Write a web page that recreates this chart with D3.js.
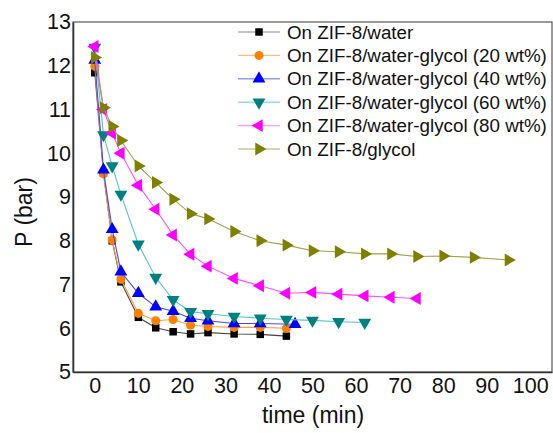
<!DOCTYPE html>
<html>
<head>
<meta charset="utf-8">
<script src="https://cdn.jsdelivr.net/npm/d3@7"></script>
<style>
  body { margin: 0; background: #fff; }
  svg { display: block; font-family: "Liberation Sans", Arial, sans-serif; }
</style>
</head>
<body>
<svg width="553" height="433"></svg>
<script>
// data
var seriesNames = ["On ZIF-8/water", "On ZIF-8/water-glycol (20 wt%)", "On ZIF-8/water-glycol (40 wt%)",
    "On ZIF-8/water-glycol (60 wt%)", "On ZIF-8/water-glycol (80 wt%)", "On ZIF-8/glycol"];

var timeWater = [0, 2, 4, 6, 10, 14, 18, 22, 26, 32, 38, 44];
var pWater = [11.84, 9.55, 8.0, 7.06, 6.25, 6.01, 5.92, 5.87, 5.90, 5.87, 5.86, 5.82];

var time20 = [0, 2, 4, 6, 10, 14, 18, 22, 26, 32, 38, 44];
var p20 = [11.99, 9.53, 8.02, 7.12, 6.34, 6.17, 6.20, 6.07, 6.04, 6.02, 6.02, 6.0];

var time40 = [0, 2, 4, 6, 10, 14, 18, 22, 26, 32, 38, 46];
var p40 = [12.13, 9.62, 8.26, 7.29, 6.80, 6.49, 6.39, 6.23, 6.17, 6.11, 6.11, 6.09];

var time60 = [0, 2, 4, 6, 10, 14, 18, 22, 26, 32, 38, 44, 50, 56, 62];
var p60 = [12.42, 10.42, 9.71, 9.06, 7.92, 7.16, 6.65, 6.38, 6.33, 6.27, 6.23, 6.20, 6.18, 6.15, 6.13];

var time80 = [0, 2, 4, 6, 10, 14, 18, 22, 26, 32, 38, 44, 50, 56, 62, 68, 74];
var p80 = [12.44, 11.0, 10.46, 10.0, 9.27, 8.72, 8.13, 7.69, 7.42, 7.14, 6.97, 6.80, 6.82, 6.78, 6.74, 6.71, 6.68];

var timeGlycol = [0, 2, 4, 6, 10, 14, 18, 22, 26, 32, 38, 44, 50, 56, 62, 68, 74, 80, 87, 95];
var pGlycol = [12.19, 11.04, 10.61, 10.29, 9.71, 9.33, 8.95, 8.62, 8.50, 8.21, 8.00, 7.90, 7.77, 7.75, 7.70, 7.70, 7.64, 7.65, 7.62, 7.56];

var xTicks = [0, 10, 20, 30, 40, 50, 60, 70, 80, 90, 100];
var yTicks = [5, 6, 7, 8, 9, 10, 11, 12, 13];

var times = [timeWater, time20, time40, time60, time80, timeGlycol];
var pressures = [pWater, p20, p40, p60, p80, pGlycol];

var markerColors = ["#000000", "#ff8000", "#0000ff", "#008080", "#ff00ff", "#808000"];
var lineColors = ["#444444", "#f8a040", "#4848f0", "#50c8c8", "#ff50ff", "#a0a048"];
var legendLineColors = ["#b0b0b0", "#f8c080", "#9898f8", "#90e0e0", "#ff98ff", "#c8c890"];
var shapes = [d3.symbolSquare, d3.symbolCircle, d3.symbolTriangle, d3.symbolTriangle, d3.symbolTriangle, d3.symbolTriangle];
var rotations = [0, 0, 0, 180, -90, 90];
var sizes = [56, 64, 72, 72, 72, 72];

var svg = d3.select("svg"),
    margin = {top: 22, right: 1, bottom: 61, left: 73},
    width = svg.attr("width") - margin.left - margin.right,
    height = svg.attr("height") - margin.top - margin.bottom,
    g = svg.append("g").attr("transform", "translate(" + margin.left + "," + margin.top + ")");

var xScale = d3.scaleLinear().domain([-5, 105]).range([0, width]),
    yScale = d3.scaleLinear().domain([5, 13]).range([height, 0]);

var series = seriesNames.map(function (name, i) {
    return {
        id: name,
        values: times[i].map(function (t, j) {
            return {time: t, p: pressures[i][j]};
        })
    };
});

// frame
g.append("rect")
    .attr("width", width)
    .attr("height", height)
    .attr("fill", "none")
    .attr("stroke", "#555")
    .attr("stroke-width", 1.2);

var xAxis = d3.axisBottom(xScale).tickValues(xTicks).tickSize(0).tickPadding(6);
var gX = g.append("g")
    .attr("transform", "translate(0," + height + ")")
    .call(xAxis);
gX.select(".domain").attr("stroke", "#333").attr("stroke-width", 1.6);
gX.selectAll("text").style("font-size", "21.5px").attr("fill", "#111").attr("dy", "0.71em");

var yAxis = d3.axisLeft(yScale).tickValues(yTicks).tickSize(0).tickPadding(2);
var gY = g.append("g").call(yAxis);
gY.select(".domain").attr("stroke", "#333").attr("stroke-width", 1.6);
gY.selectAll("text").style("font-size", "21.5px").attr("fill", "#111");
gX.attr("font-family", null);
gY.attr("font-family", null);

svg.append("text")
    .attr("x", 313)
    .attr("y", 423)
    .attr("text-anchor", "middle")
    .style("font-size", "23px")
    .attr("fill", "#111")
    .text("time (min)");

svg.append("text")
    .attr("transform", "translate(32,212) rotate(-90)")
    .attr("text-anchor", "middle")
    .style("font-size", "23px")
    .attr("fill", "#111")
    .text("P (bar)");

var line = d3.line()
    .x(function (d) { return xScale(d.time); })
    .y(function (d) { return yScale(d.p); });

var symbolFor = function (i) {
    return d3.symbol().type(shapes[i]).size(sizes[i])();
};

var groups = g.selectAll(".series")
    .data(series)
    .enter().append("g")
    .attr("class", "series");

groups.append("path")
    .attr("d", function (d) { return line(d.values); })
    .attr("fill", "none")
    .attr("stroke", function (d, i) { return lineColors[i]; })
    .attr("stroke-width", 1.1);

groups.each(function (d, i) {
    d3.select(this).selectAll(".pt")
        .data(d.values)
        .enter().append("path")
        .attr("class", "pt")
        .attr("transform", function (v) {
            return "translate(" + xScale(v.time) + "," + yScale(v.p) + ") rotate(" + rotations[i] + ")";
        })
        .attr("d", symbolFor(i))
        .attr("fill", markerColors[i]);
});

// legend
var legend = svg.append("g").attr("transform", "translate(238,32)");
var rows = legend.selectAll(".legend-row")
    .data(seriesNames)
    .enter().append("g")
    .attr("class", "legend-row")
    .attr("transform", function (d, i) { return "translate(0," + (i * 23.4) + ")"; });

rows.append("line")
    .attr("x1", 0).attr("x2", 42)
    .attr("stroke", function (d, i) { return legendLineColors[i]; })
    .attr("stroke-width", 1.4);

rows.append("path")
    .attr("transform", function (d, i) { return "translate(21,0) rotate(" + rotations[i] + ")"; })
    .attr("d", function (d, i) { return symbolFor(i); })
    .attr("fill", function (d, i) { return markerColors[i]; });

rows.append("text")
    .attr("x", 49)
    .attr("dy", "0.35em")
    .style("font-size", "18.8px")
    .attr("fill", "#111")
    .text(function (d) { return d; });
</script>
</body>
</html>
